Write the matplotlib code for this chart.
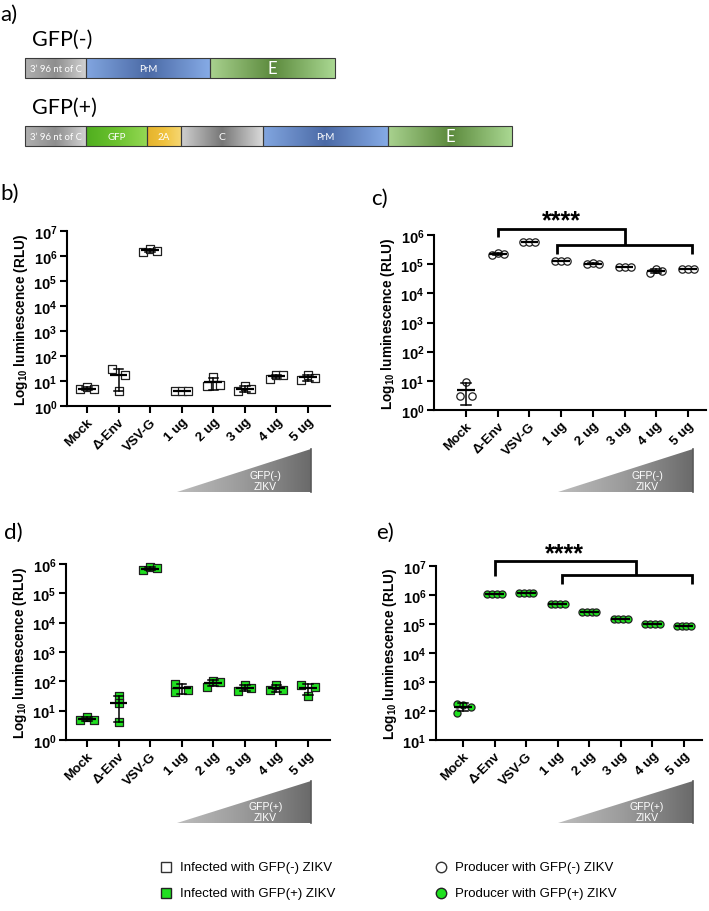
import numpy as np
import matplotlib
matplotlib.use('Agg')
import matplotlib.pyplot as plt
from matplotlib.colors import LinearSegmentedColormap
from matplotlib.patches import Polygon, Rectangle
from matplotlib.ticker import NullLocator

plt.rcParams['font.family'] = ['Liberation Sans', 'DejaVu Sans']
plt.rcParams['mathtext.fontset'] = 'custom'
plt.rcParams['mathtext.rm'] = 'Liberation Sans'
plt.rcParams['mathtext.bf'] = 'Liberation Sans:bold'
plt.rcParams['mathtext.it'] = 'Liberation Sans:italic'

# ---------------- data ----------------
categories = ['Mock', 'Δ-Env', 'VSV-G', '1 ug', '2 ug', '3 ug', '4 ug', '5 ug']

# b) infected with GFP(-) ZIKV (RLU)
b_values = [
    [4.6, 5.8, 4.6],
    [31, 4, 17],
    [1.5e6, 1.9e6, 1.6e6],
    [3.9, 3.9, 3.9],
    [6.3, 14.4, 6.7],
    [3.9, 6.3, 4.6],
    [12.3, 16.8, 16.8],
    [10.6, 17.9, 13.5],
]
# c) producer with GFP(-) ZIKV
c_values = [
    [3.0, 9.0, 3.0],
    [2.07e5, 2.46e5, 2.2e5],
    [5.6e5, 5.6e5, 5.6e5],
    [1.26e5, 1.26e5, 1.26e5],
    [1.0e5, 1.07e5, 1.0e5],
    [8.3e4, 8.3e4, 8.3e4],
    [5.0e4, 6.9e4, 5.9e4],
    [6.6e4, 6.6e4, 6.6e4],
]
# d) infected with GFP(+) ZIKV
d_values = [
    [4.8, 6.3, 4.8],
    [32, 18, 4],
    [6.2e5, 7.6e5, 7.2e5],
    [81, 44, 50],
    [64, 100, 98],
    [47, 75, 59],
    [50, 77, 50],
    [75, 31, 66],
]
# e) producer with GFP(+) ZIKV
e_values = [
    [178, 87, 162, 141],
    [1.08e6, 1.08e6, 1.08e6, 1.08e6],
    [1.17e6, 1.17e6, 1.17e6, 1.17e6],
    [4.9e5, 4.9e5, 4.9e5, 4.9e5],
    [2.6e5, 2.6e5, 2.6e5, 2.6e5],
    [1.44e5, 1.44e5, 1.44e5, 1.44e5],
    [1.02e5, 1.02e5, 1.02e5, 1.02e5],
    [8.3e4, 8.3e4, 8.3e4, 8.3e4],
]

# horizontal spread of points (layout only)
spread3 = [[-1, 0, 1]] * 8
d_spread = [[-1, 0, 1], [0, 0, 0], [-1, 0, 1], [-1, -1, 1],
            [-1, 0, 1], [-1, 0, 1], [-1, 0, 1], [-1, 0, 1]]
e_spread = [[-1.2, -1.2, 0.1, 1.6]] + [[-1.5, -0.5, 0.5, 1.5]] * 7

GREEN = '#1fe01f'
W, H = 709, 912
fig = plt.figure(figsize=(W / 100, H / 100), dpi=100)

ov = fig.add_axes([0, 0, 1, 1], zorder=0)
ov.set_xlim(0, W)
ov.set_ylim(H, 0)
ov.axis('off')


def grad_rect(x0, x1, y0, y1, colors, clip=None, z=1):
    cmap = LinearSegmentedColormap.from_list('g', colors)
    arr = np.linspace(0, 1, 256)[None, :]
    im = ov.imshow(arr, cmap=cmap, extent=(x0, x1, y1, y0), aspect='auto',
                   interpolation='bilinear', zorder=z)
    if clip is not None:
        ov.add_patch(clip)
        clip.set_visible(False)
        im.set_clip_path(clip)
    return im


# ---------------- panel a ----------------
PANEL_FONT = ['Lato', 'Open Sans', 'DejaVu Sans']
ov.text(0, 21, 'a)', fontsize=16, family=PANEL_FONT, va='baseline')
ov.text(32, 46, 'GFP(-)', fontsize=15.5, family=PANEL_FONT, va='baseline')
ov.text(32, 114, 'GFP(+)', fontsize=15.5, family=PANEL_FONT, va='baseline')

seg_styles = {
    'C96': ['#b0b0b0', '#8e8e8e', '#d2d2d2'],
    'PrM': ['#82a6e0', '#4b6aa6', '#86abe6'],
    'E': ['#a9d28f', '#5c8a3d', '#aad892'],
    'GFP': ['#4fae1f', '#6cc22f', '#94d854'],
    '2A': ['#e4b22c', '#f0c23e', '#f6d772'],
    'C': ['#d0d0d0', '#777777', '#dadada'],
}
bar1 = [('C96', 25, 86, '3’ 96 nt of C', 6.8), ('PrM', 86, 210, 'PrM', 7),
        ('E', 210, 335, 'E', 12)]
bar2 = [('C96', 25, 86, '3’ 96 nt of C', 6.8), ('GFP', 86, 147, 'GFP', 7),
        ('2A', 147, 181, '2A', 7), ('C', 181, 263, 'C', 7.5),
        ('PrM', 263, 388, 'PrM', 7), ('E', 388, 512, 'E', 12)]
for bar, (y0, y1) in [(bar1, (59, 79)), (bar2, (127, 147))]:
    for key, x0, x1, lab, fs in bar:
        grad_rect(x0, x1, y0, y1, seg_styles[key])
        ov.add_patch(Rectangle((x0, y0), x1 - x0, y1 - y0, fill=False,
                               ec='#3a3a3a', lw=0.8, zorder=2))
        ov.text((x0 + x1) / 2, (y0 + y1) / 2 + 0.5, lab, color='white', fontsize=fs,
                ha='center', va='center', family=PANEL_FONT, zorder=3)

# panel labels
ov.text(0, 200, 'b)', fontsize=16, family=PANEL_FONT, va='baseline')
ov.text(371, 205, 'c)', fontsize=16, family=PANEL_FONT, va='baseline')
ov.text(4, 539, 'd)', fontsize=16, family=PANEL_FONT, va='baseline')
ov.text(376, 539, 'e)', fontsize=16, family=PANEL_FONT, va='baseline')

# gradient triangles
def triangle(x0, x1, ytop, ybot, line1):
    poly = Polygon([[x0, ybot], [x1, ybot], [x1, ytop]], closed=True)
    grad_rect(x0, x1, ytop, ybot, ['#bdbdbd', '#9a9a9a', '#6a6a6a'], clip=poly)
    ov.plot([x1, x1], [ytop, ybot], color='#5a5a5a', lw=1.2, zorder=2)
    xc = x0 + 0.66 * (x1 - x0)
    ov.text(xc, ybot - 17, line1, color='white', fontsize=7.5, ha='center', va='center',
            zorder=3)
    ov.text(xc, ybot - 6, 'ZIKV', color='white', fontsize=7.5, ha='center', va='center',
            zorder=3)


triangle(177, 311, 450, 493, 'GFP(-)')
triangle(558, 693, 450, 493, 'GFP(-)')
triangle(177, 311, 782, 824, 'GFP(+)')
triangle(558, 693, 782, 824, 'GFP(+)')

# legend
ov.plot([166], [868], marker='s', ms=7.5, mfc='white', mec='#333333', mew=1.0, ls='none')
ov.plot([166], [894], marker='s', ms=7.5, mfc=GREEN, mec='#222222', mew=1.0, ls='none')
ov.plot([441], [868], marker='o', ms=7.5, mfc='white', mec='#333333', mew=1.0, ls='none')
ov.plot([441], [894], marker='o', ms=7.5, mfc=GREEN, mec='#222222', mew=1.0, ls='none')
for x, y, t in [(180, 868, 'Infected with GFP(-) ZIKV'), (180, 894, 'Infected with GFP(+) ZIKV'),
                (455, 868, 'Producer with GFP(-) ZIKV'), (455, 894, 'Producer with GFP(+) ZIKV')]:
    ov.text(x, y, t, fontsize=9.5, va='center')


# ---------------- data panels ----------------
def panel(l, t, r, b, xlim, dec_lo, dec_hi):
    ax = fig.add_axes([l / W, 1 - b / H, (r - l) / W, (b - t) / H], zorder=2)
    ax.patch.set_alpha(0)
    ax.set_yscale('log')
    ax.set_ylim(10.0 ** dec_lo, 10.0 ** dec_hi)
    ax.set_xlim(*xlim)
    for s in ['top', 'right']:
        ax.spines[s].set_visible(False)
    for s in ['left', 'bottom']:
        ax.spines[s].set_linewidth(1.5)
    ks = list(range(dec_lo, dec_hi + 1))
    ax.set_yticks([10.0 ** k for k in ks])
    ax.set_yticklabels([rf'$\mathbf{{10^{{{k}}}}}$' for k in ks])
    ax.yaxis.set_minor_locator(NullLocator())
    ax.tick_params(width=1.5, length=5, labelsize=10.5, pad=2)
    ax.set_xticks(range(len(categories)))
    ax.set_xticklabels(categories, rotation=45, ha='right', rotation_mode='anchor',
                       fontweight='bold', fontsize=9.5)
    ax.set_ylabel(r'Log$_{\mathbf{10}}$ luminescence (RLU)', fontweight='bold', fontsize=9.8,
                  labelpad=2)
    return ax


def draw_groups(ax, values, spread, step, marker, size, fc, mean_hw=0.28, cap_hw=0.15):
    for i, (vals, sp) in enumerate(zip(values, spread)):
        xs = [i + o * step for o in sp]
        ax.scatter(xs, vals, marker=marker, s=size, facecolor=fc, edgecolor='#202020',
                   linewidths=0.9, zorder=3, clip_on=False)
        m = np.mean(vals)
        sd = np.std(vals, ddof=1)
        ax.plot([i - mean_hw, i + mean_hw], [m, m], color='black', lw=1.6, zorder=4,
                solid_capstyle='butt')
        if sd > 0:
            ax.plot([i, i], [m - sd, m + sd], color='black', lw=1.1, zorder=4)
            for yv in (m - sd, m + sd):
                ax.plot([i - cap_hw, i + cap_hw], [yv, yv], color='black', lw=1.1, zorder=4)


def bracket(ax, pts, lw=2.0):
    xs, ys = zip(*pts)
    ax.plot(xs, ys, color='black', lw=lw, clip_on=False, zorder=5,
            solid_joinstyle='miter', solid_capstyle='butt')


# b
axb = panel(67, 232, 330, 407, (-0.634, 7.70), 0, 7)
draw_groups(axb, b_values, spread3, 0.21, 's', 32, 'white')

# c
axc = panel(434, 236, 706, 411, (-1.01, 7.57), 0, 6)
draw_groups(axc, c_values, spread3, 0.19, 'o', 28, 'white')
bracket(axc, [(1, 10 ** 5.93), (1, 10 ** 6.21), (5, 10 ** 6.21), (5, 10 ** 5.66)])
bracket(axc, [(2.88, 10 ** 5.35), (2.88, 10 ** 5.66), (7.12, 10 ** 5.66), (7.12, 10 ** 5.35)])
axc.text(3.0, 10 ** 6.5, '****', fontsize=18, fontweight='bold', ha='center', va='center',
         clip_on=False)

# d
axd = panel(66, 565, 330, 741, (-0.665, 7.70), 0, 6)
draw_groups(axd, d_values, d_spread, 0.21, 's', 32, GREEN)

# e
axe = panel(436, 567, 702, 741, (-0.855, 7.57), 1, 7)
draw_groups(axe, e_values, e_spread, 0.15, 'o', 26, GREEN, mean_hw=0.3)
bracket(axe, [(1, 10 ** 6.655), (1, 10 ** 7.17), (5.48, 10 ** 7.17), (5.48, 10 ** 6.69)])
bracket(axe, [(3.14, 10 ** 6.38), (3.14, 10 ** 6.69), (7.24, 10 ** 6.69), (7.24, 10 ** 6.38)])
axe.text(3.2, 10 ** 7.44, '****', fontsize=18, fontweight='bold', ha='center', va='center',
         clip_on=False)

fig.savefig('out.png', dpi=100)
